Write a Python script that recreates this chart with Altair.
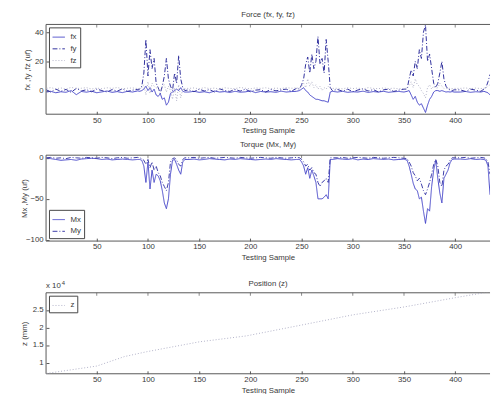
import altair as alt
import pandas as pd

# ---------------- data ----------------
S = [1, 5, 10, 15, 20, 25, 30, 35, 40, 45, 50, 55, 60, 65, 70, 75, 80, 85, 90,
     92, 94, 96, 98, 100, 102, 104, 106, 108, 110, 112, 114, 116, 118, 120, 122, 124, 126, 128, 130, 132, 134, 136,
     140, 145, 150, 155, 160, 165, 170, 175, 180, 185, 190, 195, 200, 205, 210, 215, 220, 225, 230, 235, 240, 245,
     248, 250, 252, 254, 256, 258, 260, 262, 264, 266, 268, 270, 272, 274, 276, 278, 280,
     285, 290, 295, 300, 305, 310, 315, 320, 325, 330, 335, 340, 345, 350,
     353, 355, 357, 359, 361, 363, 365, 367, 369, 371, 373, 375, 377, 379, 381, 383, 385, 387, 389, 391, 393, 395, 397, 399,
     405, 410, 415, 420, 425, 428, 430, 432, 434]

FX = [-1, -0.5, -1.5, -0.8, -1.2, 0, -2.8, -0.6, -1.1, -0.4, -1.5, -0.9, -0.3, -1.2, -0.7, -1.4, -0.5, -1, -0.2,
      -0.5, 0, 1, 3, 0, 2, -1, 1, -3, -4, -2, -6, -5, -10, -8, -2, -1, 0, 1, 0, 2, -0.5, -1,
      -1, -0.5, -1.2, -0.8, -1.5, -0.3, -1, -0.7, -1.3, -0.5, -1.1, -0.9, -0.2, -1.4, -0.6, -1, -0.8, -1.2, -0.4, -1, -0.7, -0.5,
      0, 1, 2, 0, -1, -3, -4, -5, -6, -6, -6.5, -7, -7, -7.5, -8, -1, -0.5,
      -1, -0.5, -1.2, -0.8, -1, -0.4, -1.3, -0.7, -1, -0.5, -1.2, -0.8, -0.6, -1,
      -0.5, 0, -3, -6, -4, -8, -10, -9, -12, -15, -10, -6, -4, -1, 0, 0, -0.5, 0, -0.5, -1, -0.8, -1, -0.7, -1,
      -1, -0.6, -1.2, -0.8, -1, -0.5, -1, -1.5, -3]

FY = [0.5, -1, 1, -0.5, 0.8, -1.2, 1.5, -0.3, 0.6, -0.8, 1, 0, -1, 0.7, -0.4, 1.2, -0.6, 0.3, 0.8,
      1, 3, 12, 35, 10, 28, 15, 22, 5, 2, -2, 3, 10, 22, 8, 3, 0, 12, 5, 24, 8, 2, 0,
      0.5, -0.8, 1, -0.3, 0.7, -1, 1.2, 0, -0.6, 0.9, -0.4, 1, -0.8, 0.3, 0.6, -1, 0.8, -0.2, 0.5, 1, -0.5, 1.5,
      1, 4, 8, 18, 23, 12, 25, 15, 20, 37, 18, 22, 12, 35, 20, 2, 0,
      0.8, -0.5, 1, -0.8, 0.4, 1.2, -0.3, 0.7, -1, 0.5, 1, -0.6, 0.3, 1,
      1, 8, 14, 10, 20, 15, 28, 22, 40, 45, 20, 25, 15, 5, 2, 5, 12, 20, 8, 3, 1, 0.5, 0, 0.5,
      0.5, -0.6, 1, 0.3, -0.5, 1, 2, 6, 11]

FZ = [1.5, 2, 1.2, 1.8, 1, 2.2, 1.4, 1.6, 2, 1.1, 1.7, 1.3, 1.9, 1.5, 2.1, 1.2, 1.6, 1.8, 1.4,
      1.5, 2, 4, -3, 6, -2, 5, 3, 2, 1, 0, 2, 4, -1, 3, 0, -6, 2, -7, 4, -5, 1, 1.5,
      1.5, 1.8, 1.2, 2, 1.4, 1.7, 1.1, 1.9, 1.5, 1.3, 2.1, 1.6, 1.2, 1.8, 1.5, 1.9, 1.3, 1.7, 1.4, 2, 1.6, 1.8,
      1.5, 3, 5, 2, 8, 3, 6, 2, 4, 1, 3, 0, 2, 1, 3, 1.5, 1.5,
      1.6, 1.2, 1.9, 1.4, 1.7, 1.1, 2, 1.5, 1.3, 1.8, 1.4, 1.6, 1.2, 1.5,
      1.5, 3, 6, 2, 8, 4, 3, 0, -2, -5, 2, 4, 1, 3, 1.5, 2, 5, 3, 1.5, 1.8, 1.3, 1.6, 1.4, 1.5,
      1.5, 1.8, 1.3, 1.7, 1.4, 1.6, 2, 3, 4]

MX = [0, -1, -2, -3, -2.5, -2, -3, -1.5, -1, -0.5, -1, -2, -1.5, -2.5, -2, -1.5, -2, -2.5, -2,
      -2, -3, -10, -30, -5, -38, -15, -30, -20, -22, -28, -40, -55, -62, -50, -20, -3, -2, -8, -15, -20, -5, -2,
      -2, -1.5, -2.5, -2, -1, -1.5, -2, -2.5, -1.5, -2, -1, -1.5, -2, -2.5, -2, -1.5, -2, -1, -1.5, -2, -2.5, -2,
      -2, -5, -10, -20, -12, -25, -15, -22, -30, -50, -50, -50, -48, -45, -50, -2, -2,
      -1, -1.5, -2, -1, -2.5, -1.5, -2, -1, -1.5, -2, -1.5, -2.5, -2, -1.5,
      -3, -10, -20, -31, -38, -40, -50, -48, -65, -80, -62, -65, -35, -15, -3, -25, -43, -55, -25, -20, -15, -6, -2, -1.5,
      -1.5, -2, -1, -2, -1.5, -2, -3, -10, -45]

MY = [0, 0.5, -0.5, 0, -1, 0.5, 0, -0.5, 0.5, 0, -0.5, 0.5, 0, -1, 0, 0.5, -0.5, 0, 0.5,
      0, -1, -3, -8, -2, -12, -5, -15, -10, -18, -22, -30, -35, -40, -30, -5, -1, 0, -3, -8, -10, -2, 0,
      0, 0.5, -0.5, 0, 0.5, -0.5, 0, 0.5, 0, -0.5, 0.5, 0, -0.5, 0, 0.5, 0, -0.5, 0.5, 0, -0.5, 0, 0.5,
      0, -2, -5, -10, -8, -15, -12, -18, -20, -30, -35, -30, -28, -25, -30, 0, 0,
      0, 0.5, -0.5, 0, 0.5, 0, -0.5, 0.5, 0, -0.5, 0, 0.5, 0, -0.5,
      -1, -5, -10, -18, -22, -28, -25, -32, -40, -45, -38, -30, -20, -8, -2, -10, -30, -35, -15, -10, -8, -3, 0, 0,
      0, 0.5, -0.5, 0, 0.5, 0, -1, -5, -20]

Z_S = [1, 50, 67, 77, 99, 150, 196, 250, 300, 351, 400, 434]
Z = [6900, 9000, 10700, 11700, 13100, 15900, 17600, 20700, 23600, 25900, 28500, 30200]

X_TICKS = [50, 100, 150, 200, 250, 300, 350, 400]
F_TICKS = [0, 20, 40]
M_TICKS = [-100, -50, 0]
Z_TICKS = [10000, 15000, 20000, 25000]

F_NAMES = ["fx", "fy", "fz"]
M_NAMES = ["Mx", "My"]
Z_NAMES = ["z"]

# ---------------- style ----------------
FONT = "Liberation Sans"
TXT = "#3a3a3a"
FRAME = "#555555"
W = 455
XDOM = [0.5, 434]

SOLID = [1, 0]
DASHDOT = [5, 2, 1, 2]
DOT = [1, 2]


def long(xs, names, series):
    rows = []
    for n, vals in zip(names, series):
        for s, v in zip(xs, vals):
            rows.append({"s": s, "v": v, "series": n})
    return pd.DataFrame(rows)


def panel(df, names, colors, dashes, ydom, yticks, ytitle, title, h,
          legend_orient, title_x, label_expr=None, extra=None):
    xs = alt.Scale(domain=XDOM, nice=False, zero=False)
    ys = alt.Scale(domain=ydom, nice=False, zero=False)
    xa = alt.Axis(values=X_TICKS, title="Testing Sample", grid=False, domain=False,
                  offset=-3, tickSize=3, labelPadding=2, titlePadding=3)
    ya_kw = dict(values=yticks, title=ytitle, grid=False, domain=False,
                 offset=-3, tickSize=3, labelPadding=3, titleX=title_x)
    if label_expr:
        ya_kw["labelExpr"] = label_expr
    ya = alt.Axis(**ya_kw)

    frame_h = alt.Chart(pd.DataFrame({"v": ydom})).mark_rule(
        color=FRAME, strokeWidth=1).encode(y=alt.Y("v:Q", scale=ys, axis=ya))
    frame_v = alt.Chart(pd.DataFrame({"s": [XDOM[0]]})).mark_rule(
        color=FRAME, strokeWidth=1).encode(x=alt.X("s:Q", scale=xs, axis=xa))
    top_ticks = alt.Chart(pd.DataFrame({"s": X_TICKS, "v": [ydom[1]] * len(X_TICKS)})).mark_tick(
        orient="vertical", size=3, thickness=1, yOffset=1.5, color=FRAME).encode(
        x=alt.X("s:Q", scale=xs, axis=xa), y=alt.Y("v:Q", scale=ys, axis=ya))

    leg = alt.Legend(title=None, orient=legend_orient, offset=3, strokeColor="#444444",
                     fillColor="white", padding=3, symbolType="stroke", symbolSize=160,
                     symbolStrokeWidth=1, labelFont=FONT, labelFontSize=8, labelColor=TXT,
                     rowPadding=1, labelOffset=5)
    lines = alt.Chart(df).mark_line(clip=True, strokeWidth=1).encode(
        x=alt.X("s:Q", scale=xs, axis=xa),
        y=alt.Y("v:Q", scale=ys, axis=ya),
        color=alt.Color("series:N", scale=alt.Scale(domain=names, range=colors), legend=leg),
        strokeDash=alt.StrokeDash("series:N", scale=alt.Scale(domain=names, range=dashes), legend=leg),
    )
    layers = [frame_h, frame_v, top_ticks, lines]
    if extra is not None:
        layers += extra
    return alt.layer(*layers).properties(width=W, height=h, title=title)


df_f = long(S, F_NAMES, [FX, FY, FZ])
df_m = long(S, M_NAMES, [MX, MY])
df_z = long(Z_S, Z_NAMES, [Z])

p1 = panel(df_f, F_NAMES, ["#4646c8", "#2e2e9c", "#b0b0c6"], [SOLID, DASHDOT, DOT],
           [-16.2, 45.3], F_TICKS, "fx ,fy ,fz (uf)",
           alt.TitleParams("Force (fx, fy, fz)", offset=5), 92, "top-left", -18)

p2 = panel(df_m, M_NAMES, ["#4646c8", "#3a3aa8"], [SOLID, DASHDOT],
           [-101.5, 3.2], M_TICKS, "Mx ,My (uf)",
           alt.TitleParams("Torque (Mx, My)", offset=5), 88, "bottom-left", -21)

exp_text = [
    alt.Chart(pd.DataFrame({"t": ["x 10"]})).mark_text(
        align="left", baseline="middle", font=FONT, fontSize=8, color=TXT).encode(
        x=alt.value(0), y=alt.value(-7), text="t:N"),
    alt.Chart(pd.DataFrame({"t": ["4"]})).mark_text(
        align="left", baseline="middle", font=FONT, fontSize=6, color=TXT).encode(
        x=alt.value(16), y=alt.value(-10), text="t:N"),
]
p3 = panel(df_z, Z_NAMES, ["#b0b0c6"], [DOT],
           [6800, 29900], Z_TICKS, "z (mm)",
           alt.TitleParams(["", "Position (z)"], offset=-8.3, lineHeight=12.5), 83, "top-left", -21,
           label_expr="datum.value / 10000", extra=exp_text)

chart = alt.vconcat(p1, p2, p3, spacing=6).resolve_scale(
    color="independent", strokeDash="independent", x="independent", y="independent"
).properties(
    padding={"left": 13, "top": -2, "right": 0, "bottom": 0}
).configure_view(stroke=None).configure_axis(
    labelFont=FONT, labelFontSize=8, labelColor=TXT, titleFont=FONT, titleFontSize=8,
    titleFontWeight="normal", titleColor=TXT, tickColor=FRAME
).configure_title(
    font=FONT, fontSize=8, fontWeight="normal", color=TXT
)

chart.save("out.html", embed_options={"renderer": "svg", "actions": False})
